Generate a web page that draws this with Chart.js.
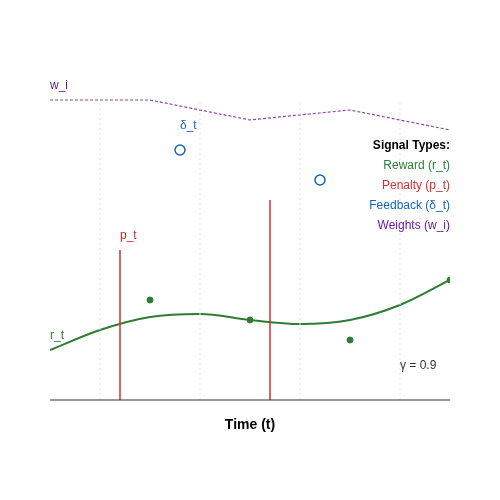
<!DOCTYPE html>
<html><head><meta charset="utf-8">
<script src="https://cdn.jsdelivr.net/npm/chart.js@4"></script>
<style>html,body{margin:0;background:#fff}#wrap{width:500px;height:500px}</style>
</head><body><div id="wrap"><canvas id="c"></canvas></div>
<script>
const gridX = [1, 3, 5, 7];
const rewardCurveX = [0, 1, 2, 3, 4, 5, 6, 7, 8];
const rewardCurveY = [1.0, 1.4, 1.66, 1.72, 1.6, 1.52, 1.6, 1.9, 2.4];
const rewardDotsX = [2, 4, 6, 8];
const rewardDotsY = [2.0, 1.6, 1.2, 2.4];
const penaltyX = [1.4, 4.4];
const penaltyY = [3.0, 4.0];
const feedbackX = [2.6, 5.4];
const feedbackY = [5.0, 4.4];
const weightX = [0, 2, 4, 6, 8];
const weightY = [6.0, 6.0, 5.6, 5.8, 5.4];
const legend = [['Reward (r_t)', '#2e7d32'], ['Penalty (p_t)', '#d32f2f'],
                ['Feedback (δ_t)', '#1565c0'], ['Weights (w_i)', '#6a1b9a']];

const F = '"Liberation Sans", Arial, sans-serif';
const pts = (xs, ys) => xs.map((x, i) => ({ x, y: ys[i] }));
const ds = [
  ...gridX.map(x => ({ type: 'line', data: [{ x, y: 0 }, { x, y: 6 }], borderColor: '#e0e0e0',
    borderWidth: 1, borderDash: [2, 3], pointRadius: 0 })),
  ...penaltyX.map((x, i) => ({ type: 'line', data: [{ x, y: 0 }, { x, y: penaltyY[i] }],
    borderColor: '#d32f2f', borderWidth: 1.5, pointRadius: 0 })),
  { type: 'line', data: pts(weightX, weightY), borderColor: '#8e44ad', borderWidth: 1.2,
    borderDash: [3, 2], pointRadius: 0, tension: 0 },
  { type: 'line', data: pts(rewardCurveX, rewardCurveY), borderColor: '#2e7d32', borderWidth: 2,
    pointRadius: 0, cubicInterpolationMode: 'monotone' },
  { type: 'scatter', data: pts(rewardDotsX, rewardDotsY), backgroundColor: '#2e7d32',
    borderColor: '#2e7d32', pointRadius: 3 },
  { type: 'scatter', data: pts(feedbackX, feedbackY), backgroundColor: 'rgba(0,0,0,0)',
    borderColor: '#1565c0', borderWidth: 1.5, pointRadius: 5 },
];

new Chart(document.getElementById('c'), {
  data: { datasets: ds },
  options: {
    responsive: true, maintainAspectRatio: false, animation: false,
    layout: { padding: { left: 50, right: 50, top: 50, bottom: 100 } },
    scales: {
      x: { type: 'linear', min: 0, max: 8, display: false },
      y: { min: 0, max: 7, display: false },
    },
    plugins: { legend: { display: false }, tooltip: { enabled: false } },
  },
  plugins: [{
    id: 'texte',
    afterDraw(ch) {
      const { ctx, chartArea: a, scales: { x, y } } = ch;
      ctx.save();
      ctx.strokeStyle = '#333'; ctx.lineWidth = 1.2;
      ctx.beginPath(); ctx.moveTo(a.left, a.bottom); ctx.lineTo(a.right, a.bottom); ctx.stroke();
      ctx.textBaseline = 'middle';
      const t = (s, px, py, col, al = 'left', f = '12px ' + F) => {
        ctx.fillStyle = col; ctx.textAlign = al; ctx.font = f; ctx.fillText(s, px, py);
      };
      t('w_i', x.getPixelForValue(0), y.getPixelForValue(6.28), '#6a1b9a');
      t('δ_t', x.getPixelForValue(2.6), y.getPixelForValue(5.48), '#1565c0');
      t('p_t', x.getPixelForValue(1.4), y.getPixelForValue(3.28), '#c62828');
      t('r_t', x.getPixelForValue(0), y.getPixelForValue(1.28), '#2e7d32');
      t('γ = 0.9', x.getPixelForValue(7), y.getPixelForValue(0.68), '#333');
      t('Signal Types:', a.right, y.getPixelForValue(5.08), '#000', 'right', 'bold 12px ' + F);
      legend.forEach(([s, c], i) => t(s, a.right, y.getPixelForValue(4.68 - 0.4 * i), c, 'right'));
      t('Time (t)', (a.left + a.right) / 2, a.bottom + 25, '#000', 'center', 'bold 14px ' + F);
      ctx.restore();
    },
  }],
});
</script></body></html>
